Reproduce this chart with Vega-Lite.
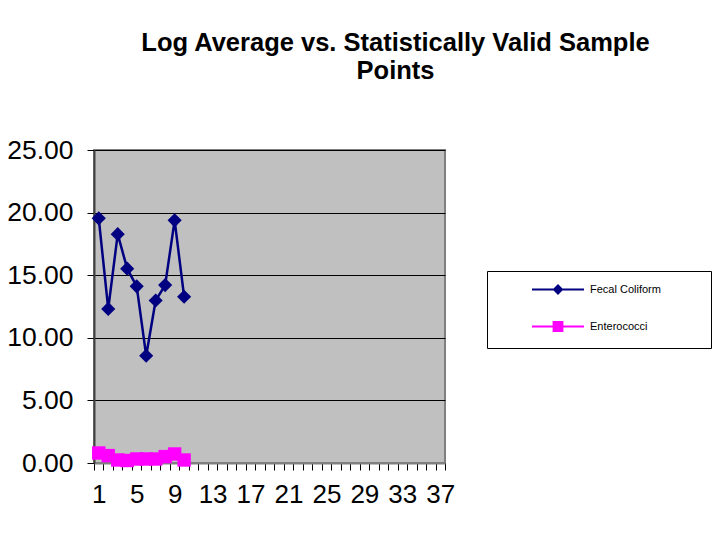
{
  "$schema": "https://vega.github.io/schema/vega-lite/v6.json",
  "width": 351,
  "height": 313,
  "autosize": "none",
  "padding": {"left": 94, "top": 150, "right": 279, "bottom": 89},
  "background": "white",
  "title": {
    "text": ["Log Average vs. Statistically Valid Sample", "Points"],
    "font": "Liberation Sans",
    "fontSize": 25.5,
    "fontWeight": "bold",
    "color": "black",
    "anchor": "middle",
    "frame": "group",
    "dx": 126,
    "offset": 53,
    "lineHeight": 28
  },
  "data": {
    "values": [
      {"n": 1, "series": "Fecal Coliform", "value": 19.54},
      {"n": 2, "series": "Fecal Coliform", "value": 12.31},
      {"n": 3, "series": "Fecal Coliform", "value": 18.28},
      {"n": 4, "series": "Fecal Coliform", "value": 15.52},
      {"n": 5, "series": "Fecal Coliform", "value": 14.11},
      {"n": 6, "series": "Fecal Coliform", "value": 8.57},
      {"n": 7, "series": "Fecal Coliform", "value": 12.98},
      {"n": 8, "series": "Fecal Coliform", "value": 14.21},
      {"n": 9, "series": "Fecal Coliform", "value": 19.38},
      {"n": 10, "series": "Fecal Coliform", "value": 13.28},
      {"n": 1, "series": "Enterococci", "value": 0.8},
      {"n": 2, "series": "Enterococci", "value": 0.59},
      {"n": 3, "series": "Enterococci", "value": 0.24},
      {"n": 4, "series": "Enterococci", "value": 0.2},
      {"n": 5, "series": "Enterococci", "value": 0.32},
      {"n": 6, "series": "Enterococci", "value": 0.32},
      {"n": 7, "series": "Enterococci", "value": 0.32},
      {"n": 8, "series": "Enterococci", "value": 0.51},
      {"n": 9, "series": "Enterococci", "value": 0.72},
      {"n": 10, "series": "Enterococci", "value": 0.24}
    ]
  },
  "encoding": {
    "x": {
      "field": "n",
      "type": "ordinal",
      "bandPosition": 0.5,
      "scale": {
        "type": "band",
        "domain": [1,2,3,4,5,6,7,8,9,10,11,12,13,14,15,16,17,18,19,20,21,22,23,24,25,26,27,28,29,30,31,32,33,34,35,36,37],
        "paddingInner": 0,
        "paddingOuter": 0
      },
      "axis": {
        "title": null,
        "labelExpr": "(datum.value - 1) % 4 == 0 ? datum.label : ''",
        "tickBand": "extent",
        "labelAngle": 0,
        "labelFont": "Liberation Sans",
        "labelFontSize": 26,
        "labelColor": "black",
        "labelOverlap": false,
        "labelBound": false,
        "tickColor": "black",
        "tickSize": 7,
        "labelPadding": 11,
        "domainColor": "#808080",
        "domainWidth": 2
      }
    },
    "y": {
      "field": "value",
      "type": "quantitative",
      "scale": {"domain": [0, 25], "nice": false},
      "axis": {
        "title": null,
        "values": [0, 5, 10, 15, 20, 25],
        "format": ".2f",
        "grid": true,
        "gridColor": "black",
        "gridOpacity": 1,
        "gridWidth": 1,
        "labelFont": "Liberation Sans",
        "labelFontSize": 26.5,
        "labelColor": "black",
        "tickColor": "black",
        "tickSize": 7,
        "labelPadding": 14,
        "domainColor": "#404040",
        "domainWidth": 2
      }
    },
    "color": {
      "field": "series",
      "type": "nominal",
      "sort": ["Fecal Coliform", "Enterococci"],
      "scale": {"domain": ["Fecal Coliform", "Enterococci"], "range": ["#000080", "#FF00FF"]},
      "legend": {
        "title": ".",
        "titleColor": "white",
        "titleOrient": "right",
        "titlePadding": 33,
        "titleFontSize": 11,
        "orient": "none",
        "legendX": 393,
        "legendY": 121,
        "strokeColor": "black",
        "fillColor": "white",
        "padding": 13,
        "rowPadding": 20,
        "labelFont": "Liberation Sans",
        "labelFontSize": 11,
        "labelColor": "black",
        "labelLimit": 300,
        "symbolSize": 64,
        "symbolStrokeWidth": 2,
        "encode": {
          "symbols": {
            "update": {
              "x": {"value": 58},
              "shape": {"signal": "datum.value === 'Fecal Coliform' ? 'M-6.5,0L6.5,0M-1,0L0,-1L1,0L0,1Z' : 'M-6.5,0L6.5,0M-1.1,-1.1L1.1,-1.1L1.1,1.1L-1.1,1.1Z'"},
              "fill": {"scale": "color", "field": "value"},
              "stroke": {"scale": "color", "field": "value"},
              "strokeWidth": {"value": 2},
              "opacity": {"value": 1}
            }
          },
          "labels": {
            "update": {
              "x": {"value": 90}
            }
          }
        }
      }
    }
  },
  "layer": [
    {"mark": {"type": "line", "strokeWidth": 2.5}},
    {
      "transform": [{"filter": "datum.series === 'Fecal Coliform'"}],
      "mark": {"type": "point", "filled": true, "opacity": 1, "shape": "diamond", "size": 200}
    },
    {
      "transform": [{"filter": "datum.series === 'Enterococci'"}],
      "mark": {"type": "point", "filled": true, "opacity": 1, "shape": "square", "size": 180}
    }
  ],
  "config": {
    "view": {"fill": "#C0C0C0", "stroke": "#808080", "strokeWidth": 2}
  }
}
